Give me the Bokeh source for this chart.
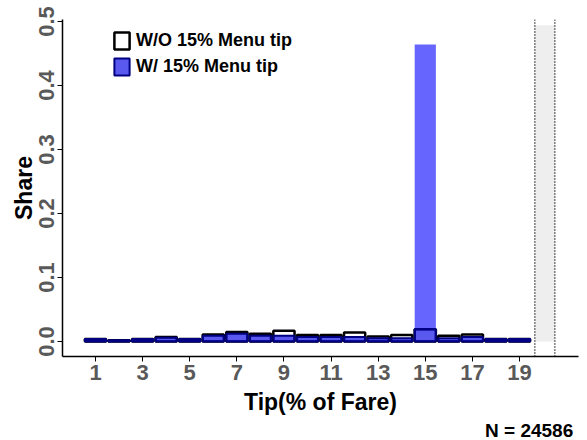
from bokeh.plotting import figure
from bokeh.models import (ColumnDataSource, FixedTicker, Range1d, Span, Legend,
                          LegendItem, Title, PrintfTickFormatter)
from bokeh.embed import file_html
from bokeh.resources import INLINE
import numpy as np

# ---- data ----
tip_pct = list(range(1, 20))
share_without_menu = [0.004, 0.002, 0.004, 0.007, 0.004, 0.011, 0.015, 0.012, 0.017, 0.010,
                      0.010, 0.014, 0.008, 0.010, 0.019, 0.009, 0.011, 0.004, 0.004]
share_with_menu = [0.004, 0.002, 0.004, 0.006, 0.004, 0.009, 0.012, 0.009, 0.009, 0.007,
                   0.007, 0.007, 0.005, 0.005, 0.464, 0.005, 0.007, 0.004, 0.004]
x_ticks = [1, 3, 5, 7, 9, 11, 13, 15, 17, 19]
y_ticks = [0.0, 0.1, 0.2, 0.3, 0.4, 0.5]
n_obs = 24586
band_left, band_right, band_top = 19.65, 20.5, 0.494

FONT = "Liberation Sans"

p = figure(width=587, height=440, output_backend="svg", toolbar_location=None,
           x_range=Range1d(-0.401, 21.505), y_range=Range1d(-0.0234, 0.5031),
           min_border_left=62, min_border_right=9, min_border_top=19,
           min_border_bottom=83)
p.outline_line_color = None
p.grid.visible = False
p.background_fill_color = "white"

# gray band on the right
band_src = ColumnDataSource(dict(left=[band_left], right=[band_right], bottom=[0], top=[band_top]))
p.quad(left="left", right="right", bottom="bottom", top="top", source=band_src,
       fill_color="#eeeeee", line_color=None)
for loc in (band_left, band_right):
    p.add_layout(Span(location=loc, dimension="height", line_color="black",
                      line_width=1.5, line_dash="1 2"))

src = ColumnDataSource(dict(
    x=tip_pct,
    wo=share_without_menu,
    w=share_with_menu,
    both=list(np.minimum(share_without_menu, share_with_menu)),
))

r_wo = p.vbar(x="x", top="wo", width=0.9, source=src, fill_color="white",
              line_color="black", line_width=2.5)
r_wfill = p.vbar(x="x", top="w", width=0.9, source=src, fill_color="#0000ff",
                 fill_alpha=0.6, line_color=None)
r_wline = p.vbar(x="x", top="both", width=0.9, source=src, fill_color="#000080",
                 fill_alpha=0.12, line_color="#000080", line_width=2)

legend = Legend(items=[
    LegendItem(label="W/O 15% Menu tip", renderers=[r_wo]),
    LegendItem(label="W/ 15% Menu tip", renderers=[r_wfill, r_wline]),
], location=(50, 279), padding=0, margin=0, spacing=5,
    glyph_width=19, glyph_height=21, label_height=21, label_standoff=5,
    border_line_color=None, background_fill_alpha=0,
    label_text_font=FONT, label_text_font_style="bold",
    label_text_font_size="18px", label_text_color="black")
p.add_layout(legend)

# axes
p.xaxis.ticker = FixedTicker(ticks=x_ticks)
p.yaxis.ticker = FixedTicker(ticks=y_ticks)
p.yaxis.formatter = PrintfTickFormatter(format="%.1f")
p.yaxis.major_label_orientation = "vertical"
for ax in (p.xaxis, p.yaxis):
    ax.axis_line_color = "black"
    ax.axis_line_width = 1.5
    ax.major_tick_out = 5
    ax.major_tick_in = 0
    ax.major_tick_line_color = "black"
    ax.minor_tick_line_color = None
    ax.major_label_text_font = FONT
    ax.major_label_text_font_style = "bold"
    ax.major_label_text_font_size = "22px"
    ax.major_label_text_color = "#595959"
    ax.major_label_standoff = 3
    ax.axis_label_text_font = FONT
    ax.axis_label_text_font_style = "bold"
    ax.axis_label_text_font_size = "23px"
    ax.axis_label_text_color = "black"
p.xaxis.axis_label_standoff = 6
p.yaxis.axis_label_standoff = 0
p.xaxis.axis_label = "Tip(% of Fare)"
p.yaxis.axis_label = "Share"

p.add_layout(Title(text=f"N =  {n_obs}", align="right", text_font=FONT,
                   text_font_style="bold", text_font_size="19px",
                   standoff=0, offset=0, text_color="black"), "below")

open("out.html", "w").write(file_html(p, INLINE))
